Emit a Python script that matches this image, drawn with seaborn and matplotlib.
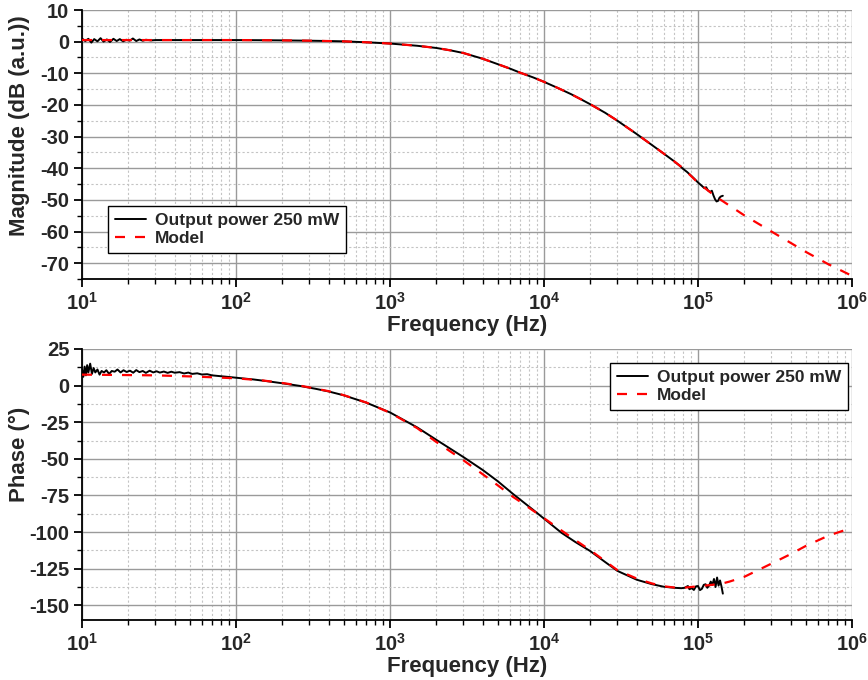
import matplotlib
matplotlib.use("Agg")
import matplotlib.pyplot as plt
import matplotlib.ticker as mticker
import numpy as np
import pandas as pd
import seaborn as sns

# ---------------- data ----------------
meas_mag_f = [10, 10.5, 11, 11.5, 12, 12.6, 13.2, 13.8, 14.5, 15.2, 16, 16.8, 17.6, 18.5,
              19.4, 20.4, 21.4, 22.5, 23.6, 24.8, 26, 28, 30, 40, 60, 100, 150, 200, 300,
              400, 500, 700, 1000, 1500, 2000, 2500, 3000, 4000, 5000, 6000, 7000,
              8500, 10000, 12500, 15000, 17500, 20000, 25000, 30000, 40000, 50000, 60000,
              70000, 76000, 80000, 85000, 90000, 95000, 100000, 105000, 110000, 113000,
              116000, 120000, 123000, 126000, 129000, 132000, 135000, 138000, 141000, 145000]
meas_mag_db = [1.0, 0.2, 0.9, -0.3, 0.8, 0.1, 1.1, 0.0, 0.7, -0.1, 0.9, 0.2, 0.8, 0.1,
               0.6, 0.3, 1.0, 0.2, 0.7, 0.3, 0.6, 0.4, 0.5, 0.5, 0.5, 0.5, 0.45, 0.4, 0.3,
               0.2, 0.1, -0.2, -0.6, -1.3, -2.0, -2.8, -3.6, -5.4, -7.1, -8.5, -9.8,
               -11.3, -12.7, -14.8, -16.6, -18.3, -19.8, -22.5, -25.0, -29.2, -32.6, -35.4,
               -37.8, -39.2, -40.2, -41.2, -42.3, -43.4, -44.5, -45.4, -46.3, -46.0,
               -47.0, -47.5, -47.1, -48.6, -49.8, -50.5, -50.3, -49.3, -48.9, -48.7]

model_mag_f = [10, 100, 200, 300, 500, 700, 1000, 1500, 2000, 2500, 3000, 4000, 5000,
               6000, 7000, 8500, 10000, 12500, 15000, 17500, 20000, 25000, 30000, 40000,
               50000, 60000, 70000, 80000, 100000, 130000, 150000, 200000, 300000, 400000,
               500000, 700000, 1000000]
model_mag_db = [0.5, 0.5, 0.4, 0.3, 0.1, -0.2, -0.6, -1.3, -2.0, -2.8, -3.6, -5.4, -7.1,
                -8.5, -9.8, -11.3, -12.7, -14.8, -16.6, -18.3, -19.8, -22.5, -25.0, -29.2,
                -32.6, -35.4, -37.8, -40.0, -44.6, -48.9, -50.9, -54.9, -60.0, -63.6,
                -66.4, -70.3, -74.0]

meas_ph_f = [10, 10.2, 10.4, 10.6, 10.8, 11.0, 11.3, 11.6, 11.9, 12.2, 12.6, 13.0, 13.4,
             13.9, 14.4, 15.0, 15.6, 16.3, 17.0, 17.8, 18.6, 19.5, 20.5, 21.5, 22.5, 23.6,
             24.8, 26, 27.5, 29, 30.5, 32, 34, 36, 38, 40, 43, 46, 49, 52, 56, 60, 65, 70,
             80, 90, 100, 130, 160, 200, 260, 330, 400, 500, 700, 1000, 1500, 2000, 3000,
             4000, 5000, 6300, 7000, 8500, 10000, 13000, 16000, 20000, 25000, 30000,
             40000, 50000, 60000, 70000, 78000, 82000, 86000, 88000, 91000, 94000, 97000,
             100000, 103000, 106000, 109000, 112000, 115000, 118000, 121000, 124000,
             127000, 130000, 133000, 136000, 139000, 142000, 145000]
meas_ph_deg = [11, 6, 13, 7, 14, 9, 15, 8, 12, 9, 11, 7.5, 10, 9, 10.5, 8, 10, 9.5, 11, 9,
               10.5, 9.3, 10.2, 8.8, 10.6, 9.2, 10, 8.7, 10.2, 9, 9.8, 8.9, 9.6, 8.7, 9.5,
               8.8, 9.2, 8.3, 8.9, 8.0, 8.4, 7.6, 7.8, 7.0, 6.4, 5.9, 5.4, 4.2, 3.0, 1.6,
               -0.2, -2.2, -4.0, -6.6, -11.6, -18.3, -28.5, -37.0, -48.8, -57.6, -65.2,
               -74.0, -77.8, -84.8, -90.8, -100.5, -106.8, -113.0, -120.5, -126.5, -132.5,
               -135.5, -137.3, -138.0, -138.3, -138.0, -136.8, -139.0, -138.2, -139.5,
               -137.0, -136.8, -139.6, -138.7, -136.0, -135.6, -138.0, -136.5, -133.8,
               -136.0, -132.0, -137.5, -131.0, -136.5, -133.0, -137.0, -142.0]

model_ph_f = [10, 20, 30, 50, 70, 100, 150, 200, 260, 400, 500, 700, 1000, 1500, 2000,
              3000, 4000, 5000, 6300, 7000, 10000, 15000, 20000, 30000, 40000, 50000,
              60000, 70000, 80000, 100000, 140000, 160000, 200000, 300000, 400000, 500000,
              700000, 1000000]
model_ph_deg = [7.5, 7.2, 7.0, 6.3, 5.7, 5.0, 3.5, 1.8, 0.0, -3.8, -6.5, -11.5, -18.5,
                -29.0, -38.5, -51.0, -60.5, -68.0, -76.0, -79.2, -90.5, -103.5, -112.4,
                -126.0, -131.7, -135.0, -137.0, -137.8, -138.0, -137.0, -135.4, -133.8,
                -130.5, -121.5, -115.0, -109.5, -102.5, -97.0]

label_meas = "Output power 250 mW"
label_model = "Model"
mag_ticks = [10, 0, -10, -20, -30, -40, -50, -60, -70]
ph_ticks = [25, 0, -25, -50, -75, -100, -125, -150]
decades = [1, 2, 3, 4, 5, 6]

# ---------------- style ----------------
sns.set_theme(style="white")
plt.rcParams["font.family"] = ["Liberation Sans", "DejaVu Sans"]
plt.rcParams["font.weight"] = "bold"
plt.rcParams["axes.labelweight"] = "bold"
plt.rcParams["mathtext.fontset"] = "custom"
plt.rcParams["mathtext.bf"] = "Liberation Sans:bold"
plt.rcParams["mathtext.rm"] = "Liberation Sans:bold"
plt.rcParams["mathtext.it"] = "Liberation Sans:bold"

fig = plt.figure(figsize=(8.68, 6.8), dpi=100)
ax1 = fig.add_axes([82 / 868, 1 - 279 / 680, 770 / 868, 269 / 680])
ax2 = fig.add_axes([82 / 868, 1 - 620 / 680, 770 / 868, 271 / 680])


def draw(ax, mf, mv, pf, pv):
    d1 = pd.DataFrame({"f": mf, "v": mv})
    d2 = pd.DataFrame({"f": pf, "v": pv})
    sns.lineplot(data=d1, x="f", y="v", ax=ax, color="black", lw=1.4, sort=False,
                 estimator=None, label=label_meas, zorder=3)
    sns.lineplot(data=d2, x="f", y="v", ax=ax, color="#ff0000", lw=1.6, sort=False,
                 estimator=None, label=label_model, zorder=4, dashes=False)
    ax.lines[-1].set_dashes((4.5, 4.5))


draw(ax1, meas_mag_f, meas_mag_db, model_mag_f, model_mag_db)
draw(ax2, meas_ph_f, meas_ph_deg, model_ph_f, model_ph_deg)

for ax, ticks, ylim, minor in ((ax1, mag_ticks, (-75, 10), 5), (ax2, ph_ticks, (-160, 25), 12.5)):
    ax.set_xscale("log")
    ax.set_xlim(10, 1e6)
    ax.set_ylim(*ylim)
    ax.xaxis.set_major_locator(mticker.FixedLocator([10.0 ** d for d in decades]))
    ax.xaxis.set_major_formatter(mticker.FixedFormatter(
        [r"$\mathbf{10^{%d}}$" % d for d in decades]))
    ax.xaxis.set_minor_locator(mticker.LogLocator(base=10, subs=np.arange(2, 10)))
    ax.xaxis.set_minor_formatter(mticker.NullFormatter())
    ax.yaxis.set_major_locator(mticker.FixedLocator(ticks))
    ax.yaxis.set_major_formatter(mticker.FixedFormatter([str(t) for t in ticks]))
    ax.yaxis.set_minor_locator(mticker.MultipleLocator(minor))
    ax.grid(True, which="major", color="#9a9a9a", lw=1.0, ls="-")
    ax.grid(True, which="minor", color="#c4c4c4", lw=0.8, ls=(0, (2, 2)))
    ax.set_axisbelow(True)
    for s in ("top", "right"):
        ax.spines[s].set_visible(False)
    for s in ("left", "bottom"):
        ax.spines[s].set_color("black")
        ax.spines[s].set_linewidth(1.3)
    ax.tick_params(which="major", direction="out", length=6, width=1.3, color="black",
                   labelsize=14.5, bottom=True, left=True, pad=3)
    ax.tick_params(which="minor", direction="out", length=3.5, width=1.0, color="black",
                   bottom=True, left=True)
    for lab in ax.get_yticklabels():
        lab.set_fontweight("bold")
    ax.set_xlabel("Frequency (Hz)", fontsize=16, fontweight="bold", labelpad=1)

ax1.set_ylabel("Magnitude (dB (a.u.))", fontsize=16, fontweight="bold")
ax2.set_ylabel("Phase (°)", fontsize=16, fontweight="bold")
ax1.yaxis.set_label_coords(-0.068, 0.57)
ax2.yaxis.set_label_coords(-0.068, 0.61)

leg_kw = dict(frameon=True, fancybox=False, edgecolor="black", framealpha=1,
              prop={"weight": "bold", "size": 12.5}, handlelength=1.8, borderaxespad=0,
              handletextpad=0.5, labelspacing=0.15, borderpad=0.4)
l1 = ax1.legend(loc="lower left", bbox_to_anchor=(0.034, 0.097), **leg_kw)
l2 = ax2.legend(loc="upper right", bbox_to_anchor=(0.995, 0.948), **leg_kw)
for l in (l1, l2):
    l.get_frame().set_linewidth(1.0)
    l.legend_handles[1].set_dashes((4.5, 4.5))

fig.savefig("out.png", dpi=100)
